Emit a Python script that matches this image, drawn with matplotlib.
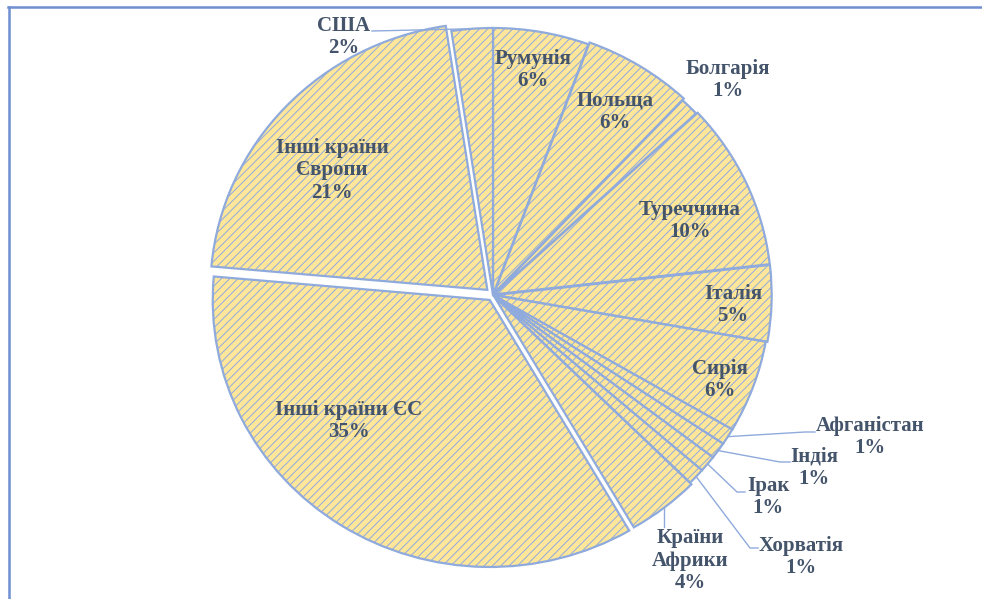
import matplotlib
matplotlib.use("Agg")
import matplotlib.pyplot as plt
from matplotlib.lines import Line2D
import numpy as np

# ---- data ----
countries = ["Румунія", "Польща", "Болгарія", "Туреччина", "Італія", "Сирія",
             "Афганістан", "Індія", "Ірак", "Хорватія", "Країни\nАфрики",
             "Інші країни ЄС", "Інші країни\nЄвропи", "США"]
shares = [5.6, 6.4, 1.1, 10.1, 4.6, 5.6, 1.0, 1.0, 1.0, 1.0, 4.2, 34.8, 21.2, 2.4]
explode = [0, 0.008, 0, 0.006, 0.006, 0, 0, 0, 0, 0, 0.008, 0.022, 0.028, 0]

# ---- layout ----
W, H = 982, 599
CX, CY, RX, RY = 493, 295, 277, 267   # pie centre / radii in pixels
FILL = "#FFE699"
EDGE = "#8FAADC"
TXT = "#44546A"
FRAME = "#6F8FD0"
LINE_PX = 22.5

# label positions in pixels (centre of text block); leader knee and end (px)
label_px = {
    "Румунія": (533, 70, None),
    "Польща": (615, 112, None),
    "Болгарія": (728, 80, None),
    "Туреччина": (690, 221, None),
    "Італія": (733, 305, None),
    "Сирія": (720, 380, None),
    "Афганістан": (870, 437, [(805, 432), (815, 432)]),
    "Індія": (814, 468, [(780, 462), (790, 462)]),
    "Ірак": (768, 497, [(737, 492), (745, 492)]),
    "Хорватія": (801, 557, [(750, 548), (758, 548)]),
    "Країни\nАфрики": (690, 561, [(661, 527)]),
    "Інші країни ЄС": (349, 421, None),
    "Інші країни\nЄвропи": (332, 170, None),
    "США": (344, 37, [(372, 31)]),
}

plt.rcParams['hatch.linewidth'] = 0.7
fig = plt.figure(figsize=(W / 100, H / 100), dpi=100)
lim = 1.3
wpx, hpx = 2 * lim * RX, 2 * lim * RY
ax = fig.add_axes([(CX - wpx / 2) / W, ((H - CY) - hpx / 2) / H,
                   wpx / W, hpx / H])

wedges, _ = ax.pie(shares, explode=explode, startangle=90, counterclock=False,
                   radius=1.0,
                   wedgeprops=dict(facecolor=FILL, edgecolor=EDGE, linewidth=1.6,
                                   hatch="////"))
ax.set_aspect('auto')
ax.set_xlim(-lim, lim)
ax.set_ylim(-lim, lim)
ax.axis('off')


def px2d(px, py):
    return (px - CX) / RX, (CY - py) / RY


total = sum(shares)
for w, name, v in zip(wedges, countries, shares):
    x, y, leader = label_px[name]
    pct = f"{round(v / total * 100)}%"
    lines = name.split("\n") + [pct]
    n = len(lines)
    for i, s in enumerate(lines):
        ly = y + (i - (n - 1) / 2) * LINE_PX
        tx, ty = px2d(x, ly)
        ax.text(tx, ty, s, ha='center', va='center',
                fontsize=15, fontweight='bold', color=TXT,
                family=['Liberation Serif', 'DejaVu Serif'])
    if leader is not None:
        ang = np.deg2rad((w.theta1 + w.theta2) / 2)
        cx, cy = w.center
        sx, sy = cx + w.r * np.cos(ang), cy + w.r * np.sin(ang)
        pts = [px2d(*p) for p in leader]
        if name.startswith("Країни"):
            ax.plot([sx, sx], [sy, pts[0][1]], color=EDGE, lw=1.0)
        else:
            xs = [sx] + [p[0] for p in pts]
            ys = [sy] + [p[1] for p in pts]
            ax.plot(xs, ys, color=EDGE, lw=1.0)

# frame lines (top and left)
fig.add_artist(Line2D([8 / W, 1], [1 - 7 / H, 1 - 7 / H], color=FRAME, lw=1.8,
                      transform=fig.transFigure))
fig.add_artist(Line2D([9 / W, 9 / W], [0, 1 - 7 / H], color=FRAME, lw=1.8,
                      transform=fig.transFigure))

fig.savefig("out.png", dpi=100)
